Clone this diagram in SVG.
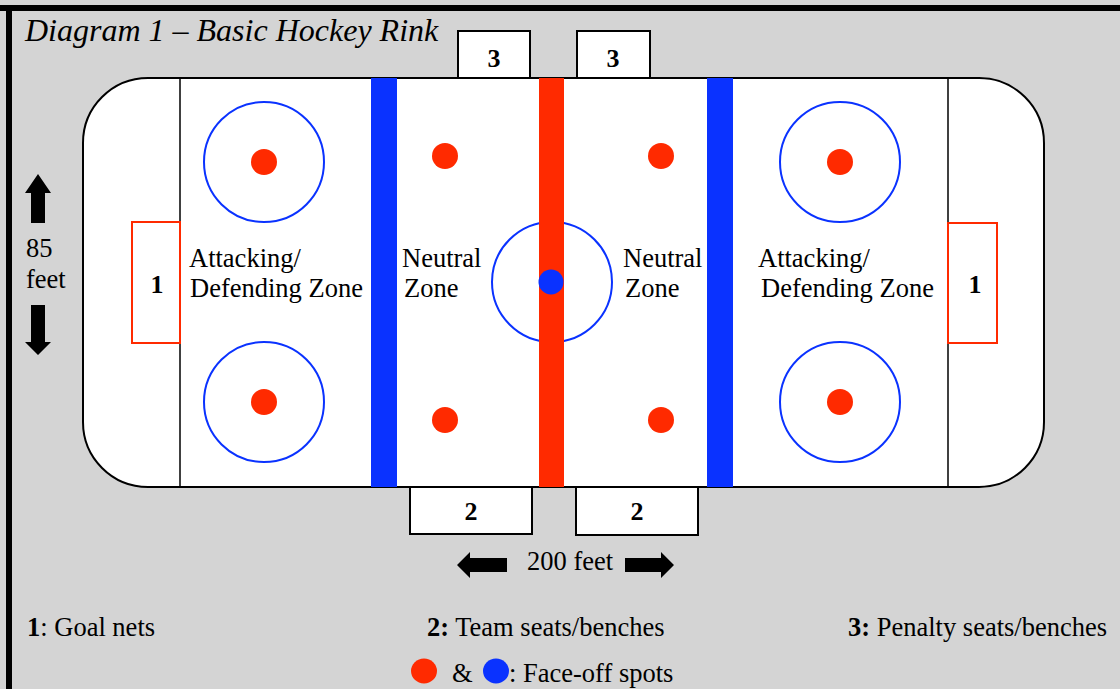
<svg xmlns="http://www.w3.org/2000/svg" width="1120" height="689" viewBox="0 0 1120 689">
<style>
  text { font-family: "Liberation Serif", "Times New Roman", serif; fill: #000; }
  .lbl { font-size: 26.5px; }
  .num { font-size: 26px; font-weight: bold; text-anchor: middle; }
  .box { fill: #fff; stroke: #000; stroke-width: 2; }
  .net { fill: #fff; stroke: #ff2a00; stroke-width: 2; }
  .fc { fill: none; stroke: #0a32ff; stroke-width: 2; }
  .red { fill: #ff2a00; }
  .blue { fill: #0a32ff; }
  .arr { fill: #000; }
</style>
<rect x="0" y="0" width="1120" height="689" fill="#d4d4d4"/>
<path d="M0 8 H1120 M9 8 V689" stroke="#000" stroke-width="6" fill="none"/>
<text x="25" y="41" font-size="32" font-style="italic">Diagram 1 – Basic Hockey Rink</text>

<g id="rink">
  <rect x="83" y="78" width="961" height="409" rx="65" ry="65" fill="#fff" stroke="#000" stroke-width="2"/>
  <line x1="180" y1="78" x2="180" y2="487" stroke="#000" stroke-width="1.5"/>
  <line x1="948" y1="78" x2="948" y2="487" stroke="#000" stroke-width="1.5"/>
</g>

<g id="penalty-boxes">
  <rect class="box" x="458" y="31" width="72" height="47"/>
  <text class="num" x="494" y="67">3</text>
  <rect class="box" x="577" y="31" width="73" height="47"/>
  <text class="num" x="613" y="67">3</text>
</g>

<g id="team-benches">
  <rect class="box" x="410" y="487" width="122" height="47"/>
  <text class="num" x="471" y="520">2</text>
  <rect class="box" x="576" y="487" width="122" height="48"/>
  <text class="num" x="637" y="520">2</text>
</g>

<g id="lines">
  <rect class="blue" x="371" y="78" width="26" height="409"/>
  <rect class="blue" x="707" y="78" width="26" height="409"/>
</g>

<g id="center-circle">
  <circle class="fc" cx="552" cy="282" r="60"/>
</g>
<g id="red-line">
  <rect class="red" x="539" y="78" width="25" height="409"/>
  <circle class="blue" cx="551" cy="282" r="12.5"/>
</g>

<g id="goal-left">
  <rect class="net" x="132" y="222" width="48" height="121"/>
  <text class="num" x="157" y="293">1</text>
</g>
<g id="goal-right">
  <rect class="net" x="948" y="223" width="49" height="120"/>
  <text class="num" x="975" y="293">1</text>
</g>

<g id="faceoff-circles">
  <circle class="fc" cx="264" cy="162" r="60"/>
  <circle class="red" cx="264" cy="162" r="13"/>
  <circle class="fc" cx="264" cy="402" r="60"/>
  <circle class="red" cx="264" cy="402" r="13"/>
  <circle class="fc" cx="840" cy="162" r="60"/>
  <circle class="red" cx="840" cy="162" r="13"/>
  <circle class="fc" cx="840" cy="402" r="60"/>
  <circle class="red" cx="840" cy="402" r="13"/>
</g>
<g id="neutral-dots">
  <circle class="red" cx="445" cy="156" r="13"/>
  <circle class="red" cx="661" cy="156" r="13"/>
  <circle class="red" cx="445" cy="420" r="13"/>
  <circle class="red" cx="661" cy="420" r="13"/>
</g>

<g id="zone-labels">
  <text class="lbl" x="189" y="267">Attacking/</text>
  <text class="lbl" x="190" y="297">Defending Zone</text>
  <text class="lbl" x="402" y="267">Neutral</text>
  <text class="lbl" x="404" y="297">Zone</text>
  <text class="lbl" x="623" y="267">Neutral</text>
  <text class="lbl" x="625" y="297">Zone</text>
  <text class="lbl" x="758" y="267">Attacking/</text>
  <text class="lbl" x="761" y="297">Defending Zone</text>
</g>

<g id="dimension-85">
  <polygon class="arr" points="38,174 51,193 45,193 45,223 31,223 31,193 25,193"/>
  <text class="lbl" x="26" y="257">85</text>
  <text class="lbl" x="26" y="288">feet</text>
  <polygon class="arr" points="31,305 45,305 45,342 51,342 38,355 25,342 31,342"/>
</g>

<g id="dimension-200">
  <polygon class="arr" points="457,565 470,552 470,558 507,558 507,572 470,572 470,578"/>
  <text class="lbl" x="527" y="570">200 feet</text>
  <polygon class="arr" points="674,565 661,552 661,558 625,558 625,572 661,572 661,578"/>
</g>

<g id="legend">
  <text class="lbl" x="27" y="636"><tspan font-weight="bold">1</tspan>: Goal nets</text>
  <text class="lbl" x="427" y="636"><tspan font-weight="bold">2:</tspan> Team seats/benches</text>
  <text class="lbl" x="848" y="636"><tspan font-weight="bold">3:</tspan> Penalty seats/benches</text>
  <ellipse class="red" cx="424" cy="671" rx="13" ry="12.5"/>
  <text class="lbl" x="452" y="682">&amp;</text>
  <ellipse class="blue" cx="496" cy="671" rx="13" ry="12.5"/>
  <text class="lbl" x="509" y="682">: Face-off spots</text>
</g>
</svg>
